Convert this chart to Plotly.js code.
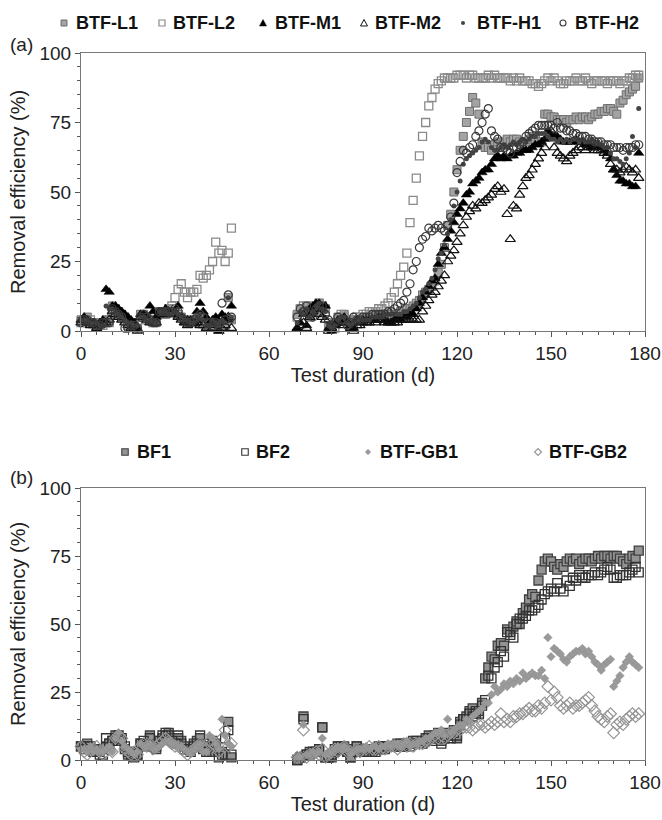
<!DOCTYPE html>
<html><head><meta charset="utf-8">
<script src="https://cdn.plot.ly/plotly-3.0.1.min.js"></script>
<style>html,body{margin:0;padding:0;background:#fff}</style>
</head><body><div id="chart" style="width:662px;height:820px"></div>
<script>
// Test duration (d)
const days = [0,1,2,3,4,5,6,7,8,9,10,11,12,13,14,15,16,17,18,19,20,21,22,23,24,25,26,27,28,29,30,31,32,33,34,35,36,37,38,39,40,41,42,43,44,45,46,47,48,
69,70,71,72,73,74,75,76,77,78,79,80,81,82,83,84,85,86,87,88,89,90,91,92,93,94,95,96,97,98,99,100,101,102,103,104,105,106,107,108,109,110,111,112,113,114,115,116,117,118,119,120,121,122,123,124,125,126,127,128,129,130,131,132,133,134,135,136,137,138,139,140,141,142,143,144,145,146,147,148,149,150,151,152,153,154,155,156,157,158,159,160,161,162,163,164,165,166,167,168,169,170,171,172,173,174,175,176,177,178];

// Panel (a) removal efficiency (%)
const btfL1 = [4,4,5,3,3,2,2,3,4,4, 9,8,7,6,5,3,3,2,1,6, 6,5,4,3,3,7,7,6,8,7, 7,6,5,4,3,4,3,4,5,3, 2,3,3,4,2,3,2,12,4,
 6,8,7,9,5,8,7,10,9,8, 2,1,3,5,5,6,4,2,2,4, 4,4,4,5,5,5,5,5,6,6, 6,6,6,7,7,8,8,9,10,11, 13,14,15,16,18,21,24,30,38,42,
 50,58,65,70,75,79,84,82,78,68, 66,66,65,67,68,67,68,69,68,69, 69,68,67,68,69,70,69,68,68,78, 78,77,77,76,76,76,75,76,76,77,
 76,77,77,76,77,78,78,79,79,80, 80,79,78,82,83,85,86,87,88,91];
const btfL2 = [3,3,4,4,3,3,2,2,3,3, 8,7,6,5,4,2,2,3,2,5, 5,4,4,3,4,6,7,7,8,9, 12,15,17,14,12,14,14,15,20,19, 20,22,25,32,28,29,25,28,37,
 5,8,9,7,6,9,8,10,9,7, 3,2,1,4,6,5,3,2,4,5, 5,6,6,7,7,7,8,8,9,10, 12,14,17,20,23,28,39,47,55,63, 70,75,81,84,87,89,90,91,91,91,
 91,92,92,92,91,92,92,91,91,91, 91,92,91,92,91,91,91,91,90,91, 90,91,90,90,90,89,89,88,89,90, 91,90,91,90,89,89,90,90,90,91,
 90,90,91,90,89,90,90,90,90,89, 90,90,90,89,90,90,91,91,92,92];
const btfM1 = [4,5,4,3,3,2,3,4,15,14, 9,9,8,7,6,5,4,3,1,6, 6,5,9,7,5,7,7,8,7,6, 7,9,5,3,4,4,3,7,10,7, 5,3,4,5,0,6,5,4,9,
 1,3,6,2,8,9,10,10,8,9, 1,0,2,4,3,5,3,2,1,4, 3,4,4,4,4,4,5,5,4,3, 3,4,5,4,5,5,6,6,8,10, 12,14,16,18,19,24,28,30,33,36,
 39,42,44,46,49,50,53,54,55,57, 58,58,60,62,63,62,63,62,63,63, 64,64,65,65,65,66,67,67,68,69, 72,70,70,70,69,68,68,68,68,69,
 68,68,67,67,66,66,66,66,65,64, 62,58,56,54,54,53,53,52,52,64];
const btfM2 = [3,4,3,2,2,1,2,3,3,4, 7,6,5,4,3,2,1,1,0,5, 5,4,3,3,3,6,6,6,7,6, 6,5,4,3,2,3,3,3,2,2, 1,2,1,3,0,1,2,5,1,
 1,2,3,1,5,7,8,6,5,4, 0,1,2,3,3,2,3,1,0,2, 2,3,3,3,4,3,4,4,3,3, 3,3,3,4,4,4,4,4,4,4, 7,9,11,13,14,16,18,20,25,27,
 29,32,35,38,41,43,45,44,46,46, 47,48,49,51,52,50,51,42,33,45, 44,49,52,55,56,58,60,62,64,66, 70,72,66,64,63,62,61,63,64,65,
 66,66,65,66,66,65,65,65,64,63, 60,58,58,57,58,59,58,57,58,55];
const btfH1 = [4,4,4,3,3,3,2,2,9,8, 8,7,6,5,4,3,3,2,2,5, 5,4,4,3,3,7,7,7,6,6, 7,6,5,4,4,3,3,5,6,4, 2,2,4,3,2,4,3,12,5,
 3,7,6,8,5,7,9,10,8,7, 2,1,2,4,5,5,3,2,3,4, 4,4,4,4,5,5,5,5,6,6, 6,6,6,6,7,7,8,9,10,12, 14,15,17,19,22,26,28,31,35,40,
 45,50,54,60,62,63,64,65,66,68, 69,68,66,65,65,66,67,66,67,68, 67,68,69,68,69,70,70,71,71,71, 70,69,69,68,69,68,69,68,69,69,
 68,69,68,68,69,68,68,67,66,66, 64,62,62,61,60,62,64,70,66,80];
const btfH2 = [3,4,4,3,3,2,2,3,3,3, 8,7,6,5,1,1,2,2,1,5, 6,5,4,3,3,7,7,7,7,7, 8,7,5,4,3,3,4,5,6,5, 3,3,2,3,2,10,4,13,5,
 5,8,7,9,6,5,8,9,9,6, 4,2,3,5,4,4,2,3,5,4, 4,5,5,5,6,6,6,6,6,7, 7,8,9,10,11,14,17,22,25,30, 33,34,37,36,37,38,37,36,38,41,
 46,57,61,65,64,66,67,70,72,75, 78,80,72,70,69,66,66,65,64,66, 66,67,68,70,71,72,73,74,74,74, 74,74,73,75,73,73,72,72,71,71,
 70,70,70,69,69,68,68,68,67,67, 67,66,66,66,65,66,66,66,67,67];

// Panel (b) removal efficiency (%)
const bf1 = [5,5,6,4,4,3,3,4,5,6, 7,9,8,7,4,2,3,2,2,6, 6,6,9,5,4,7,8,9,10,8, 7,8,7,5,4,4,6,7,8,5, 3,3,7,6,3,3,2,14,1,
 0,1,16,2,3,3,3,4,12,1, 1,1,3,5,4,5,3,1,4,5, 4,3,4,4,3,4,4,5,4,5, 5,5,6,5,5,6,6,7,6,6, 7,8,9,8,9,10,7,9,10,9,
 11,8,14,15,16,18,19,17,18,21, 30,34,38,37,42,43,42,48,47,49, 51,50,54,56,59,61,60,66,70,73, 74,73,71,70,72,71,73,74,73,74,
 72,73,74,74,73,74,75,74,75,75, 74,75,75,74,73,72,74,75,74,77];
const bf2 = [5,4,5,5,3,3,2,2,8,6, 7,8,9,8,5,3,2,1,2,6, 7,5,8,5,5,7,9,10,9,7, 6,9,6,4,4,3,5,6,9,4, 3,6,5,5,1,2,8,11,2,
 0,1,15,2,2,3,3,4,12,1, 1,2,4,5,5,4,3,1,3,5, 3,4,3,4,4,3,5,4,5,5, 5,5,5,6,5,6,5,6,7,6, 6,7,8,7,8,9,6,8,9,8,
 10,9,13,15,15,17,16,18,17,20, 22,31,30,34,36,40,38,47,46,45, 50,52,52,53,55,55,56,57,59,61, 62,63,62,65,63,62,66,64,67,66,
 68,67,67,68,68,69,68,69,70,71, 70,67,67,68,68,68,69,70,71,69];
const btfGB1 = [4,4,3,5,3,4,3,3,4,5, 3,8,10,7,5,4,3,2,3,6, 5,5,6,4,4,5,6,7,7,6, 6,5,5,4,3,3,4,5,6,3, 3,9,8,6,4,15,9,6,5,
 1,1,13,2,2,3,2,3,8,2, 2,3,4,5,4,5,4,2,3,4, 4,4,5,4,5,5,4,5,5,6, 5,6,6,5,6,7,5,6,6,7, 7,8,8,9,10,10,11,9,15,10,
 11,12,13,13,15,14,16,17,18,19, 21,21,24,27,25,26,28,27,29,28, 30,29,32,30,31,32,31,31,33,30, 45,38,41,40,39,37,36,38,39,40,
 40,41,39,40,38,36,35,33,35,36, 37,27,29,31,34,36,38,36,35,34];
const btfGB2 = [5,3,2,4,4,5,3,2,3,4, 3,8,9,8,4,3,2,3,2,5, 6,5,6,4,5,6,7,8,7,6, 5,5,4,3,2,3,4,5,6,4, 4,7,6,5,3,8,11,5,6,
 1,1,11,1,2,2,3,2,4,1, 2,3,4,3,4,5,3,3,2,4, 3,4,4,5,4,4,5,4,4,5, 5,5,4,5,6,5,6,5,6,6, 6,7,7,8,9,8,9,8,9,10,
 10,11,11,12,12,12,11,12,13,13, 12,13,14,13,14,17,14,15,14,16, 16,17,17,18,19,18,18,20,19,21, 27,22,25,23,20,19,20,21,19,20,
 20,21,22,23,20,18,16,15,14,16, 17,10,13,14,13,15,16,17,16,17];

const xTicks = [0,30,60,90,120,150,180];
const yTicks = [0,25,50,75,100];
const legendA = ['BTF-L1','BTF-L2','BTF-M1','BTF-M2','BTF-H1','BTF-H2'];
const legendB = ['BF1','BF2','BTF-GB1','BTF-GB2'];

const W = 662, H = 820;
const FONT = 'Arial, "Liberation Sans", sans-serif';

const styleA = [
  {symbol:'square', size:8, color:'#a3a3a3', line:{color:'#6e6e6e', width:1}},
  {symbol:'square-open', size:8, color:'#8a8a8a', line:{width:1.3}},
  {symbol:'triangle-up', size:9, color:'#000000', line:{color:'#000', width:0.5}},
  {symbol:'triangle-up-open', size:9, color:'#111111', line:{width:1.2}},
  {symbol:'circle', size:5, color:'#444444', line:{width:0}},
  {symbol:'circle-open', size:8, color:'#3a3a3a', line:{width:1.2}}
];
const seriesA = [btfL1, btfL2, btfM1, btfM2, btfH1, btfH2];
const styleB = [
  {symbol:'square', size:9, color:'#939393', line:{color:'#3f3f3f', width:1.3}},
  {symbol:'square-open', size:9, color:'#333333', line:{width:1.3}},
  {symbol:'diamond', size:6.5, color:'#9a9a9a', line:{color:'#888', width:0.5}},
  {symbol:'diamond-open', size:9, color:'#959595', line:{width:1.2}}
];
const seriesB = [bf1, bf2, btfGB1, btfGB2];

const traces = [];
seriesA.forEach((s,i)=>traces.push({type:'scatter', mode:'markers', x:days, y:s, name:legendA[i],
  xaxis:'x', yaxis:'y', marker:styleA[i], cliponaxis:false, showlegend:false}));
seriesB.forEach((s,i)=>traces.push({type:'scatter', mode:'markers', x:days, y:s, name:legendB[i],
  xaxis:'x2', yaxis:'y2', marker:styleB[i], cliponaxis:false, showlegend:false}));

const px = v => v/W, py = v => 1 - v/H;
const xd = [px(81), px(645)];

function xax(anchor){
  return {domain:xd, range:[0,180], tickvals:xTicks, ticktext:xTicks.map(String), anchor:anchor,
    ticks:'outside', ticklen:5, tickwidth:1, tickcolor:'#555', showline:true, linecolor:'#777', linewidth:1,
    mirror:true, showgrid:false, zeroline:false,
    minor:{dtick:5, tick0:0, ticks:'outside', ticklen:3, tickcolor:'#555', showgrid:false},
    tickfont:{family:FONT, size:19, color:'#222'},
    title:{text:'Test duration (d)', font:{family:FONT, size:20, color:'#222'}, standoff:4}};
}
function yax(anchor, dom){
  return {domain:dom, range:[0,100], tickvals:yTicks, ticktext:yTicks.map(String), anchor:anchor,
    ticks:'outside', ticklen:5, tickwidth:1, tickcolor:'#555', showline:true, linecolor:'#777', linewidth:1,
    mirror:true, showgrid:false, zeroline:false,
    minor:{dtick:5, tick0:0, ticks:'outside', ticklen:3, tickcolor:'#555', showgrid:false},
    tickfont:{family:FONT, size:19, color:'#222'},
    title:{text:'Removal efficiency (%)', font:{family:FONT, size:20, color:'#222'}, standoff:8}};
}

// legend markers and labels (drawn as shapes + annotations)
const shapes = [], annotations = [];
function legMarker(kind, cx, cy, fill, stroke, s, lw){
  const base = {xref:'paper', yref:'paper', xsizemode:'pixel', ysizemode:'pixel',
    xanchor:px(cx), yanchor:py(cy), fillcolor:fill, line:{color:stroke, width:lw}};
  const h = s/2;
  if(kind==='square') shapes.push(Object.assign({type:'rect', x0:-h, x1:h, y0:-h, y1:h}, base));
  else if(kind==='circle') shapes.push(Object.assign({type:'circle', x0:-h, x1:h, y0:-h, y1:h}, base));
  else if(kind==='tri') shapes.push(Object.assign({type:'path', path:`M ${-h},${-h*0.85} L ${h},${-h*0.85} L 0,${h} Z`}, base));
  else if(kind==='dia') shapes.push(Object.assign({type:'path', path:`M 0,${h} L ${h},0 L 0,${-h} L ${-h},0 Z`}, base));
}
function legText(t, x, y){
  annotations.push({xref:'paper', yref:'paper', x:px(x), y:py(y), xanchor:'left', yanchor:'middle', showarrow:false,
    text:'<b>'+t+'</b>', font:{family:FONT, size:18, color:'#111'}});
}
const legAx = [[64,74],[162,171],[263,273],[364,373],[463,475],[563,573]];
const legAk = [['square','#a3a3a3','#6e6e6e',6,1],['square','#fff','#8a8a8a',6,1.2],['tri','#000','#000',7,0.5],
  ['tri','#fff','#111',7,1],['circle','#444','#444',4,0],['circle','#fff','#3a3a3a',6,1.1]];
legendA.forEach((t,i)=>{ legMarker(legAk[i][0], legAx[i][0], 23, legAk[i][1], legAk[i][2], legAk[i][3], legAk[i][4]); legText(t, legAx[i][1], 23); });
const legBx = [[125,135],[245,254],[368,378],[538,547]];
const legBk = [['square','#939393','#3f3f3f',6.5,1.1],['square','#fff','#333',6.5,1.1],['dia','#9a9a9a','#888',5.5,0.5],['dia','#fff','#959595',7,1.1]];
legendB.forEach((t,i)=>{ legMarker(legBk[i][0], legBx[i][0], 452, legBk[i][1], legBk[i][2], legBk[i][3], legBk[i][4]); legText(t, legBx[i][1], 452); });

annotations.push({xref:'paper', yref:'paper', x:px(8), y:py(44), xanchor:'left', yanchor:'middle', showarrow:false,
  text:'(a)', font:{family:FONT, size:19, color:'#222'}});
annotations.push({xref:'paper', yref:'paper', x:px(8), y:py(478), xanchor:'left', yanchor:'middle', showarrow:false,
  text:'(b)', font:{family:FONT, size:19, color:'#222'}});

const layout = {
  width:W, height:H, margin:{l:0, r:0, t:0, b:0}, paper_bgcolor:'#fff', plot_bgcolor:'#fff',
  showlegend:false,
  xaxis:xax('y'), yaxis:yax('x', [py(331), py(53)]),
  xaxis2:xax('y2'), yaxis2:yax('x2', [py(760), py(488)]),
  shapes:shapes, annotations:annotations
};
Plotly.newPlot('chart', traces, layout, {staticPlot:true, displayModeBar:false});
</script>
</body></html>
